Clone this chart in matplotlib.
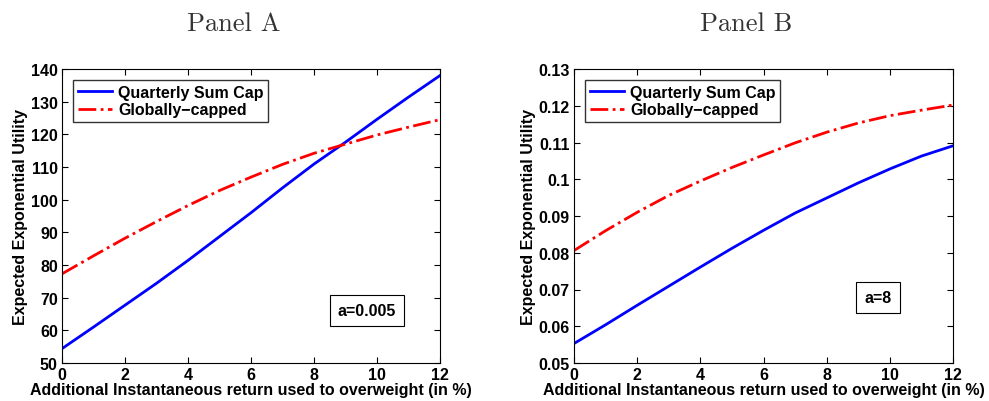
import matplotlib
matplotlib.use("Agg")
import matplotlib.pyplot as plt

plt.rcParams["font.family"] = "Liberation Sans"
plt.rcParams["font.weight"] = "bold"
plt.rcParams["xtick.direction"] = "in"
plt.rcParams["ytick.direction"] = "in"

x = [0, 1, 2, 3, 4, 5, 6, 7, 8, 9, 10, 11, 12]

# Panel A (a=0.005)
a_quarterly = [54.4, 61.0, 67.7, 74.4, 81.4, 88.7, 96.0, 103.6, 110.9, 117.6, 124.6, 131.4, 138.0]
a_global = [77.3, 82.8, 88.2, 93.3, 98.2, 102.8, 106.9, 110.8, 114.2, 117.0, 119.8, 122.2, 124.5]

# Panel B (a=8)
b_quarterly = [0.0553, 0.0604, 0.0657, 0.0709, 0.0761, 0.0812, 0.0861, 0.0908, 0.0949, 0.0990, 0.1028, 0.1063, 0.1091]
b_global = [0.0806, 0.0860, 0.0910, 0.0956, 0.0995, 0.1032, 0.1066, 0.1099, 0.1128, 0.1153, 0.1173, 0.1188, 0.1202]

panels = [
    ("Panel A", a_quarterly, a_global, (50, 140), list(range(50, 141, 10)),
     [str(v) for v in range(50, 141, 10)], "a=0.005", (0.807, 0.18)),
    ("Panel B", b_quarterly, b_global, (0.05, 0.13),
     [0.05, 0.06, 0.07, 0.08, 0.09, 0.10, 0.11, 0.12, 0.13],
     ["0.05", "0.06", "0.07", "0.08", "0.09", "0.1", "0.11", "0.12", "0.13"], "a=8", (0.802, 0.224)),
]

fig = plt.figure(figsize=(9.89, 4.02), dpi=100)
W, H = 989, 402
boxes = [(62, 70, 440, 364), (574, 70, 953, 364)]

for (title, q, g, ylim, yt, ytl, note, npos), (l, t, r, b) in zip(panels, boxes):
    ax = fig.add_axes([l / W, 1 - b / H, (r - l) / W, (b - t) / H])
    ax.plot(x, q, color="#0000ff", lw=2, label="Quarterly Sum Cap")
    ax.plot(x, g, color="#ff0000", lw=2, ls="-.", label="Globally\u2212capped")
    ax.set_xlim(0, 12)
    ax.set_ylim(*ylim)
    ax.set_xticks(range(0, 13, 2))
    ax.set_yticks(yt)
    ax.set_yticklabels(ytl)
    ax.tick_params(labelsize=11.5, top=True, right=True, length=4, pad=3)
    ax.set_xlabel("Additional Instantaneous return used to overweight (in %)",
                  fontsize=11.5, fontweight="bold", labelpad=0)
    ax.set_ylabel("Expected Exponential Utility", fontsize=11.5, fontweight="bold", labelpad=2)
    leg = ax.legend(loc="upper left", fontsize=11.5, frameon=True, fancybox=False,
                    edgecolor="black", borderaxespad=0.7, handlelength=2.1,
                    handletextpad=0.4, borderpad=0.3, labelspacing=0.15)
    leg.get_frame().set_linewidth(1.0)
    ax.text(npos[0], npos[1], note, transform=ax.transAxes, ha="center", va="center",
            fontsize=11.5, fontweight="bold",
            bbox=dict(boxstyle="square,pad=0.5", fc="white", ec="black", lw=0.8))
    ax.text((l + r) / 2 / W - 0.018, 1 - 24 / H, title, transform=fig.transFigure,
            ha="center", va="center", fontsize=19, fontweight="normal",
            family="cmr10", color="#333333")

fig.savefig("out.png", dpi=100)
